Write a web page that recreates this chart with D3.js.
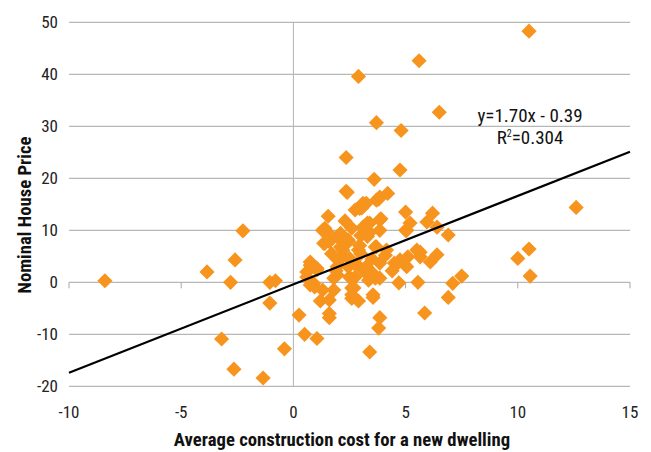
<!DOCTYPE html>
<html><head><meta charset="utf-8">
<script src="https://cdn.jsdelivr.net/npm/d3@7"></script>
<style>
body{margin:0;background:#fff;}
svg{display:block;font-family:"Liberation Sans Narrow","Arial Narrow","Roboto Condensed","Liberation Sans",sans-serif;}
</style></head><body>
<svg id="c" width="651" height="452"></svg>
<script>
// Data (x = construction cost growth, y = nominal house price growth)
const xValues = [-8.4,-3.85,-2.6,-2.25,-2.8,-3.2,-2.65,-1.35,-1.05,-1.05,-0.8,-0.4,0.25,0.5,1.05,
 2.9,5.6,10.5,6.5,3.7,4.8,2.35,4.75,2.35,3.6,4.2,3.8,3.1,2.75,1.55,3.9,5.0,6.2,5.95,1.4,3.3,
 12.6,10.0,10.5,10.55,7.5,7.1,6.9,5.85,6.9,5.55,4.7,3.85,3.8,3.4,3.55,2.9,2.6,2.6,1.6,1.2,1.6,
 3.05,3.7,1.5,1.95,2.45,3.1,3.85,3.3,5.2,6.4,5.05,1.4,2.2,2.9,3.7,4.15,5.5,5.65,6.4,6.1,4.75,5.05,4.5,
 0.75,1.05,0.6,1.95,2.7,3.1,3.55,3.85,3.35,2.5,1.8,0.9,0.6,1.8,2.7,
 0.75,0.95,1.35,1.6,2.4,3.85,2.95,3.25,1.3,2.1,2.6,3.4,3.85,5.0,1.6,2.45,2.95,3.65,5.65,5.1,4.65,
 0.75,1.05,2.45,3.25,3.85,1.95,2.75,3.65,1.3,2.6,3.55,2.2,2.0,3.0,3.5,4.1,2.8,3.2,4.4,2.3,
 1.7,2.1,2.5,3.0,3.4,1.9,2.3];
const yValues = [0.3,2.0,4.3,9.9,0.0,-10.9,-16.7,-18.4,-4.0,0.0,0.3,-12.8,-6.3,-10.0,-10.8,
 39.6,42.6,48.3,32.7,30.7,29.2,24.0,21.6,17.5,19.8,17.1,16.0,15.2,13.9,12.7,12.2,13.5,13.3,11.6,10.4,11.4,
 14.4,4.6,6.4,1.2,1.2,-0.2,-2.9,-5.9,9.1,0.0,-0.1,-6.8,-8.8,-13.4,-2.9,-3.6,-3.1,-1.1,-6.8,-3.6,-3.4,
 14.3,15.8,9.7,8.8,8.1,10.6,12.0,8.8,11.4,10.6,10.0,7.5,6.2,6.2,6.8,6.2,6.2,4.9,5.3,3.9,4.3,3.0,3.7,
 3.9,2.7,2.0,3.0,3.7,2.4,1.7,0.8,0.4,1.0,0.8,-0.2,1.0,-1.5,-1.1,
 -0.5,-0.9,7.5,-6.0,17.3,16.4,14.2,15.2,10.0,9.4,10.4,11.4,10.0,10.0,7.8,7.8,7.1,6.8,5.8,4.9,3.7,
 3.3,2.4,3.0,3.0,3.7,1.4,1.0,0.8,-1.5,-2.4,-2.4,5.0,4.2,5.5,4.5,5.2,3.5,2.0,2.2,8.5,
 5.5,6.8,4.6,9.0,9.6,2.2,11.8];
const xTicks = [-10,-5,0,5,10,15];
const yTicks = [-20,-10,0,10,20,30,40,50];
const slope = 1.70, intercept = -0.39;
const eqLabel = "y=1.70x - 0.39";
const r2Label = "=0.304";
const xTitle = "Average construction cost for a new dwelling";
const yTitle = "Nominal House Price";

const svg = d3.select("#c");
const x = d3.scaleLinear().domain([-10,15]).range([69,630]);
const y = d3.scaleLinear().domain([-20,50]).range([386.3,22.3]);

// horizontal gridlines
svg.append("g").selectAll("line").data(yTicks).join("line")
  .attr("x1",x(-10)).attr("x2",x(15))
  .attr("y1",d=>y(d)).attr("y2",d=>y(d))
  .attr("stroke","#a6a6a6").attr("stroke-width",1);
// vertical axis at x=0
svg.append("line").attr("x1",x(0)).attr("x2",x(0)).attr("y1",y(50)).attr("y2",y(-20))
  .attr("stroke","#b4b4b4").attr("stroke-width",1);
// x ticks on zero line
svg.append("g").selectAll("line").data(xTicks.filter(d=>d!==0)).join("line")
  .attr("x1",d=>x(d)).attr("x2",d=>x(d)).attr("y1",y(0)).attr("y2",y(0)+6)
  .attr("stroke","#a6a6a6").attr("stroke-width",1);

// y tick labels
svg.append("g").selectAll("text").data(yTicks).join("text")
  .attr("x",58).attr("y",d=>y(d)).attr("dy","0.35em").attr("text-anchor","end")
  .attr("font-size",17).attr("fill","#222").text(d=>d);
// x tick labels
svg.append("g").selectAll("text").data(xTicks).join("text")
  .attr("x",d=>x(d)).attr("y",418).attr("text-anchor","middle")
  .attr("font-size",17).attr("fill","#222").text(d=>d);

// points
const pts = xValues.map((v,i)=>({x:v,y:yValues[i]}));
const diamond = d3.symbol().type(d3.symbolSquare).size(115);
svg.append("g").selectAll("path").data(pts).join("path")
  .attr("d",diamond)
  .attr("transform",d=>`translate(${x(d.x)},${y(d.y)}) rotate(45)`)
  .attr("fill","#F7941E");

// trend line
svg.append("line")
  .attr("x1",x(-10)).attr("y1",y(slope*-10+intercept))
  .attr("x2",x(15)).attr("y2",y(slope*15+intercept))
  .attr("stroke","#000").attr("stroke-width",2.2);

// equation
svg.append("text").attr("x",530).attr("y",122).attr("text-anchor","middle")
  .attr("font-size",19).attr("fill","#111").text(eqLabel);
const r2 = svg.append("text").attr("x",530).attr("y",144).attr("text-anchor","middle")
  .attr("font-size",19).attr("fill","#111");
r2.append("tspan").text("R");
r2.append("tspan").attr("font-size",10).attr("dy",-7).text("2");
r2.append("tspan").attr("dy",7).text(r2Label);

// axis titles
svg.append("text").attr("x",342).attr("y",446).attr("text-anchor","middle")
  .attr("font-size",18.7).attr("font-weight","bold").attr("fill","#111").text(xTitle);
svg.append("text").attr("transform","translate(31,215) rotate(-90)").attr("text-anchor","middle")
  .attr("font-size",18.7).attr("font-weight","bold").attr("fill","#111").text(yTitle);
</script></body></html>
